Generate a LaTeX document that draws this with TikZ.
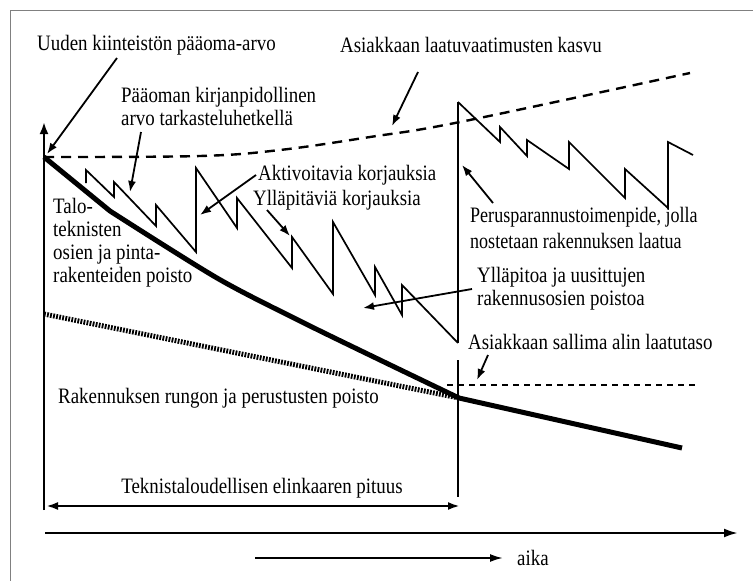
\documentclass[tikz,border=0pt]{standalone}
\usepackage{fontspec}
\setmainfont[FakeStretch=0.86]{Liberation Serif}
\newfontfamily\narrowserif[FakeStretch=0.82]{Liberation Serif}
\usetikzlibrary{arrows.meta}
\begin{document}
\begin{tikzpicture}[x=1pt,y=-1pt,
  lbl/.style={font=\fontsize{22}{23}\selectfont, inner sep=0pt, align=left, anchor=west},
  pointer/.style={line width=1.8pt, -{Latex[length=11pt,width=8pt]}},
  saw/.style={line width=1.7pt, line join=miter},
  heavy/.style={line width=5pt},
  hatch/.style={line width=5pt, dash pattern=on 1.8pt off 1.3pt},
  reqline/.style={line width=2.4pt, dash pattern=on 10pt off 7pt},
  minline/.style={line width=1.8pt, dash pattern=on 6pt off 5pt},
  axisline/.style={line width=2.4pt},
  frameline/.style={draw=gray, line width=1pt}]
\useasboundingbox (0,0) rectangle (753,581);

% frame (top and left edges)
\draw[frameline] (10,581) -- (10,10) -- (753,10);

% key points
\coordinate (O) at (44,157);
\coordinate (axtop) at (44,122);
\coordinate (axbot) at (44,510);
\coordinate (knee) at (110,211);
\coordinate (E) at (459,398);
\coordinate (heavyend) at (682,448);
\coordinate (hatchstart) at (44,314);
\coordinate (vtop) at (458,102);
\coordinate (vlow) at (458,343);
\coordinate (vgap) at (458,360);
\coordinate (vbot) at (458,497);

% value axis
\draw[axisline, -{Latex[length=12pt,width=9pt]}] (axbot) -- (axtop);

% rising quality requirement
\draw[reqline] plot[smooth, tension=0.6] coordinates {(44,157) (200,156) (280,150) (370,137) (460,122) (690,73)};

% building frame depreciation
\draw[hatch] (hatchstart) -- (E);

% technical systems and surfaces depreciation
\draw[heavy, line join=round] (O) -- (knee) plot[smooth, tension=0.5] coordinates {(110,211) (217,278) (300,321) (380,360) (459,398)} -- (heavyend);

% repair cycles before renovation
\draw[saw] (86,183) -- (86,170) -- (114,197) -- (114,182) -- (156,226) -- (156,205)
  -- (196,252) -- (196,168) -- (237,228) -- (237,198) -- (292,268) -- (292,237)
  -- (333,294) -- (333,222) -- (375,295) -- (375,267) -- (402,315) -- (402,285) -- (vlow);

% renovation jump
\draw[axisline, line width=2pt] (vlow) -- (vtop);
\draw[axisline, line width=2pt] (vgap) -- (vbot);

% repair cycles after renovation
\draw[saw] (vtop) -- (500,142) -- (500,127) -- (527,156) -- (527,140) -- (569,169) -- (569,142)
  -- (625,198) -- (625,169) -- (668,208) -- (668,142) -- (693,155);

% lowest accepted quality level
\draw[minline] (447,385) -- (697,385);

% labels
\node[lbl] (uusi) at (37,45) {Uuden kiinteistön pääoma-arvo};
\node[lbl] (kasvu) at (340,45) {Asiakkaan laatuvaatimusten kasvu};
\node[lbl] (kirja) at (121,106) {Pääoman kirjanpidollinen\\arvo tarkasteluhetkellä};
\node[lbl] (aktiv) at (258,175) {Aktivoitavia korjauksia};
\node[lbl] (yllap) at (253,200) {Ylläpitäviä korjauksia};
\node[lbl] (talo) at (53,243) {Talo-\\teknisten\\osien ja pinta-\\rakenteiden poisto};
\node[lbl, font=\narrowserif\fontsize{22}{26}\selectfont] (perus) at (470,228) {Perusparannustoimenpide, jolla\\nostetaan rakennuksen laatua};
\node[lbl] (yllapito) at (477,289) {Ylläpitoa ja uusittujen\\rakennusosien poistoa};
\node[lbl] (alin) at (468,342) {Asiakkaan sallima alin laatutaso};
\node[lbl] (runko) at (58,398) {Rakennuksen rungon ja perustusten poisto};
\node[lbl, anchor=center] (elin) at (262,488) {Teknistaloudellisen elinkaaren pituus};
\node[lbl] (aika) at (517,558) {aika};

% pointers
\coordinate (p1s) at (117,58);   \coordinate (p1e) at (47,154);
\coordinate (p2s) at (418,72);   \coordinate (p2e) at (392,126);
\coordinate (p3s) at (141,132);  \coordinate (p3e) at (130,192);
\coordinate (p4e) at (200,215);
\coordinate (p5s) at (267,210);  \coordinate (p5e) at (290,236);
\coordinate (p6s) at (493,203);  \coordinate (p6e) at (462,165);
\coordinate (p7e) at (363,308);
\coordinate (p8s) at (488,355);  \coordinate (p8e) at (477,380);
\draw[pointer] (p1s) -- (p1e);
\draw[pointer] (p2s) -- (p2e);
\draw[pointer] (p3s) -- (p3e);
\draw[pointer] ([xshift=-2pt]aktiv.west) -- (p4e);
\draw[pointer] (p5s) -- (p5e);
\draw[pointer] (p6s) -- (p6e);
\draw[pointer] ([xshift=-5pt]yllapito.west) -- (p7e);
\draw[pointer] (p8s) -- (p8e);

% life-cycle span
\coordinate (spanl) at (46,506);
\coordinate (spanr) at (460,506);
\draw[axisline, {Latex[length=12pt,width=8pt]}-{Latex[length=12pt,width=8pt]}] (spanl) -- (spanr);

% time axis
\coordinate (tl) at (45,533);
\coordinate (tr) at (738,533);
\draw[axisline, -{Latex[length=14pt,width=9pt]}] (tl) -- (tr);
\coordinate (ts) at (255,558);
\draw[axisline, line width=2pt, -{Latex[length=13pt,width=8pt]}] (ts) -- (aika.west -| 503,0);
\end{tikzpicture}
\end{document}
